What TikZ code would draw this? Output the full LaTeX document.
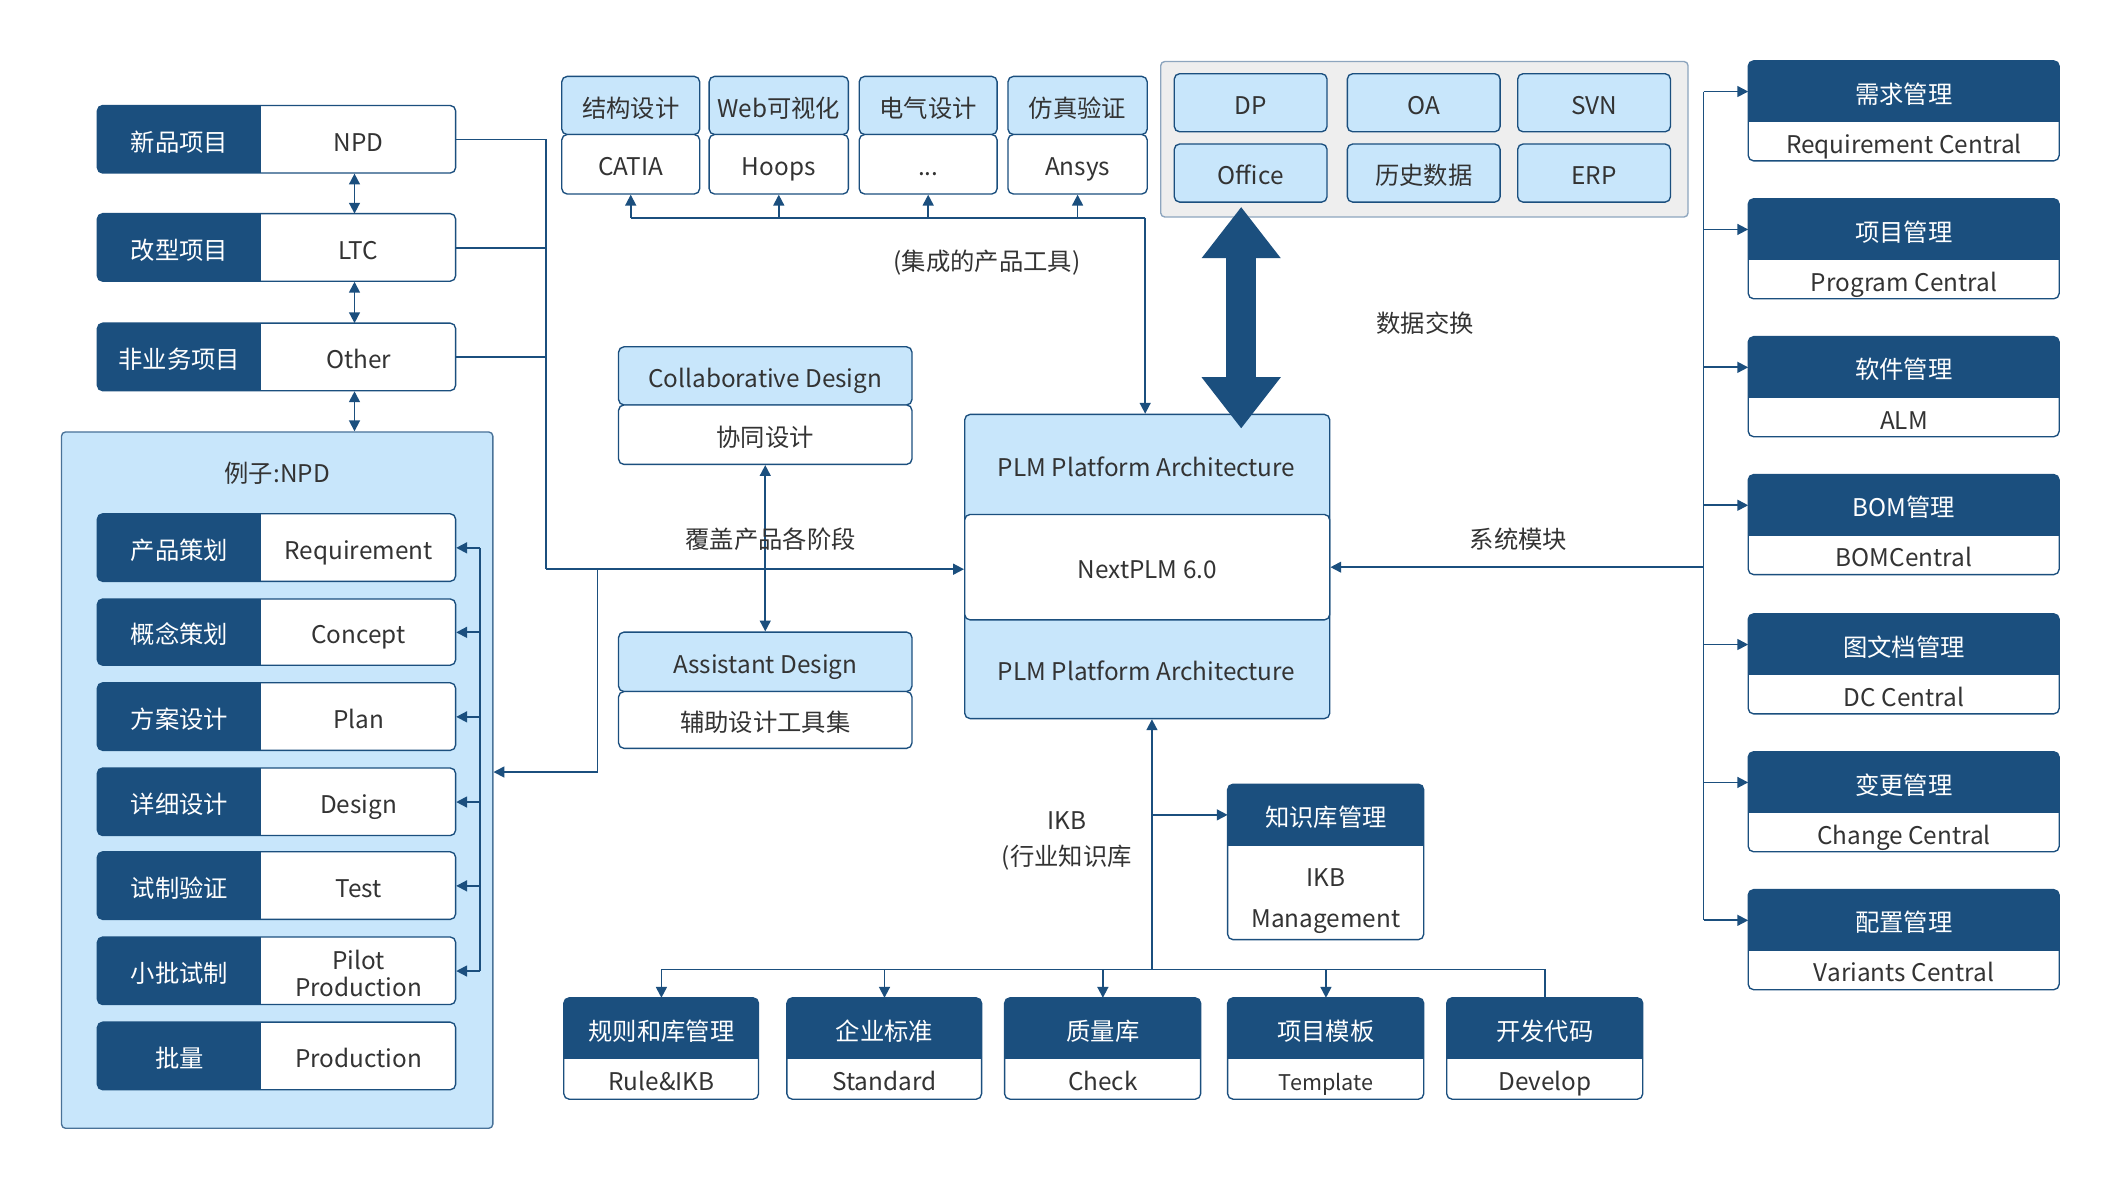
\documentclass[tikz,border=0pt]{standalone}
\usepackage{fontspec}
\setmainfont{Noto Sans CJK SC}
\usetikzlibrary{arrows.meta}
\definecolor{dk}{HTML}{1B4F7E}
\definecolor{lt}{HTML}{C8E6FB}
\definecolor{txt}{HTML}{333333}
\definecolor{grf}{HTML}{EEEEEE}
\definecolor{grb}{HTML}{8DA5BE}
\newcommand\fsz{\fontsize{18}{20}\selectfont}
% two-line text block: first line, second line, raise, extra gap
\newcommand\twol[4]{\raisebox{#3}{\begin{tabular}[t]{@{}c@{}}#1\\[#4]#2\end{tabular}}}
\tikzset{
  bdr/.style={draw=dk, line width=1pt},
  ln/.style={draw=dk, line width=1.3pt},
  arr/.style={ln, -{Triangle[length=8pt,width=8pt]}},
  darr/.style={ln, {Triangle[length=8pt,width=8pt]}-{Triangle[length=8pt,width=8pt]}},
  lbl/.style={text=txt, font=\fsz, inner sep=0pt},
  dkfill/.style={fill=dk}, dktxt/.style={text=white},
  ltfill/.style={fill=lt}, lttxt/.style={text=txt},
  part/.style={inner sep=0pt, anchor=north west, font=\fsz, align=center,
               text height=17.2pt, text depth=0pt},
  sbox/.style={part, draw=dk, line width=1pt, rounded corners=4pt, text=txt},
}
% vertical two-part box: name, x1, y1, x2, ymid, y2, head style prefix, head text, body text
\newcommand\vtwo[9]{%
  \pgfmathsetmacro\wA{#4-#2}\pgfmathsetmacro\hA{#5-#3}\pgfmathsetmacro\hB{#6-#5}%
  \begin{scope}
    \clip[rounded corners=4pt] (#2,#3) rectangle (#4,#6);
    \fill[#7fill] (#2,#3) rectangle (#4,#5);
    \fill[white] (#2,#5) rectangle (#4,#6);
  \end{scope}
  \draw[bdr] (#2,#5) -- (#4,#5);
  \draw[bdr, rounded corners=4pt] (#2,#3) rectangle (#4,#6);
  \node[part, #7txt, minimum width=\wA pt, minimum height=\hA pt] (#1h) at (#2,#3) {#8};
  \node[part, text=txt, minimum width=\wA pt, minimum height=\hB pt] (#1b) at (#2,#5) {#9};
}
% horizontal two-part box: name, x1, xm, x2, y1, y2, left text, right text
\newcommand\htwo[8]{%
  \pgfmathsetmacro\wA{#3-#2}\pgfmathsetmacro\wB{#4-#3}\pgfmathsetmacro\hA{#6-#5}%
  \begin{scope}
    \clip[rounded corners=4pt] (#2,#5) rectangle (#4,#6);
    \fill[dk] (#2,#5) rectangle (#3,#6);
    \fill[white] (#3,#5) rectangle (#4,#6);
  \end{scope}
  \draw[bdr, rounded corners=4pt] (#2,#5) rectangle (#4,#6);
  \node[part, text=white, minimum width=\wA pt, minimum height=\hA pt] (#1l) at (#2,#5) {#7};
  \node[part, text=txt, minimum width=\wB pt, minimum height=\hA pt] (#1r) at (#3,#5) {#8};
}
% separated two-part box: name, x1, y1, x2, ymid, y2, head text, body text
\newcommand\sepbox[8]{%
  \pgfmathsetmacro\wA{#4-#2}\pgfmathsetmacro\hA{#5-#3}\pgfmathsetmacro\hB{#6-#5}%
  \node[sbox, fill=lt, minimum width=\wA pt, minimum height=\hA pt] (#1h) at (#2,#3) {#7};
  \node[sbox, fill=white, minimum width=\wA pt, minimum height=\hB pt] (#1b) at (#2,#5) {#8};
}
\begin{document}
\begin{tikzpicture}[x=1pt,y=-1pt]
\fill[white] (0,0) rectangle (1568,879.3);
\useasboundingbox (0,0) rectangle (1568,879.3);

% ---------- left column ----------
\htwo{npd}{72}{193}{337}{78}{128}{新品项目}{NPD}
\htwo{ltc}{72}{193}{337}{158}{208}{改型项目}{LTC}
\htwo{oth}{72}{193}{337}{239}{289}{非业务项目}{Other}

\node[part, fill=lt, draw=dk!80, line width=1pt, rounded corners=3pt,
      minimum width=319pt, minimum height=515pt] (ex) at (45,319) {};
\node[lbl] (extitle) at (205,350) {例子:NPD};
\htwo{req}{72}{193}{337}{380}{430}{产品策划}{Requirement}
\htwo{con}{72}{193}{337}{443}{492}{概念策划}{Concept}
\htwo{pln}{72}{193}{337}{505}{555}{方案设计}{Plan}
\htwo{des}{72}{193}{337}{568}{618}{详细设计}{Design}
\htwo{tst}{72}{193}{337}{630}{680}{试制验证}{Test}
\htwo{pil}{72}{193}{337}{693}{743}{小批试制}{\twol{Pilot}{Production}{10pt}{0pt}}
\htwo{prd}{72}{193}{337}{756}{806}{批量}{Production}

\draw[darr] ([xshift=-3pt]npdr.south) -- ([xshift=-3pt]ltcr.north);
\draw[darr] ([xshift=-3pt]ltcr.south) -- ([xshift=-3pt]othr.north);
\draw[darr] ([xshift=-3pt]othr.south) -- ([xshift=-3pt]othr.south |- ex.north);

\coordinate (vx) at (355,0);
\draw[ln] (vx |- reqr.east) -- (vx |- pilr.east);
\foreach \r in {req,con,pln,des,tst,pil}{
  \draw[arr] (vx |- \r r.east) -- (\r r.east);
}

% ---------- top tools ----------
\sepbox{cat}{415}{56}{517}{99}{143}{结构设计}{CATIA}
\sepbox{hps}{524}{56}{627}{99}{143}{Web可视化}{Hoops}
\sepbox{ele}{635}{56}{737}{99}{143}{电气设计}{...}
\sepbox{ans}{745}{56}{848}{99}{143}{仿真验证}{Ansys}

% ---------- external systems ----------
\node[part, fill=grf, draw=grb, line width=1pt, rounded corners=3pt,
      minimum width=390pt, minimum height=115pt] (ext) at (858,45) {};
\node[sbox, fill=lt, minimum width=113pt, minimum height=43pt] (dp) at (868,54) {DP};
\node[sbox, fill=lt, minimum width=113pt, minimum height=43pt] (oa) at (996,54) {OA};
\node[sbox, fill=lt, minimum width=113pt, minimum height=43pt] (svn) at (1122,54) {SVN};
\node[sbox, fill=lt, minimum width=113pt, minimum height=43pt] (off) at (868,106) {Office};
\node[sbox, fill=lt, minimum width=113pt, minimum height=43pt] (his) at (996,106) {历史数据};
\node[sbox, fill=lt, minimum width=113pt, minimum height=43pt] (erp) at (1122,106) {ERP};

% ---------- design boxes ----------
\sepbox{col}{457}{256}{674}{299}{343}{Collaborative Design}{协同设计}
\sepbox{ast}{457}{467}{674}{511}{553}{Assistant Design}{辅助设计工具集}
\draw[darr] (colb.south) -- (asth.north);

% ---------- PLM ----------
\node[part, fill=lt, draw=dk, line width=1pt, rounded corners=4pt,
      minimum width=270pt, minimum height=225pt] (plm) at (713,306) {};
\node[part, fill=white, draw=dk, line width=1pt, rounded corners=4pt, text=txt,
      minimum width=270pt, minimum height=78pt] (plmmid) at (713,380) {NextPLM 6.0};
\node[lbl] (plmtop) at (848,345) {PLM Platform Architecture};
\node[lbl] (plmbot) at (848,496) {PLM Platform Architecture};

% ---------- right modules ----------
\vtwo{ra}{1293}{45}{1523}{90}{119}{dk}{需求管理}{Requirement Central}
\vtwo{rb}{1293}{147}{1523}{192}{221}{dk}{项目管理}{Program Central}
\vtwo{rc}{1293}{249}{1523}{294}{323}{dk}{软件管理}{ALM}
\vtwo{rd}{1293}{351}{1523}{396}{425}{dk}{BOM管理}{BOMCentral}
\vtwo{re}{1293}{454}{1523}{499}{528}{dk}{图文档管理}{DC Central}
\vtwo{rf}{1293}{556}{1523}{601}{630}{dk}{变更管理}{Change Central}
\vtwo{rg}{1293}{658}{1523}{703}{732}{dk}{配置管理}{Variants Central}

% ---------- knowledge base ----------
\vtwo{kb}{908}{580}{1053}{625}{695}{dk}{知识库管理}{\twol{IKB}{Management}{13pt}{10pt}}
\vtwo{ba}{417}{738}{561}{783}{813}{dk}{规则和库管理}{Rule\&IKB}
\vtwo{bb}{582}{738}{726}{783}{813}{dk}{企业标准}{Standard}
\vtwo{bc}{743}{738}{888}{783}{813}{dk}{质量库}{Check}
\vtwo{bd}{908}{738}{1053}{783}{813}{dk}{项目模板}{{\fontsize{16}{20}\selectfont Template}}
\vtwo{be}{1070}{738}{1215}{783}{813}{dk}{开发代码}{Develop}

% ---------- labels ----------
\node[lbl] (l1) at (730,194) {(集成的产品工具)};
\node[lbl] (l2) at (1054,239) {数据交换};
\node[lbl] (l3) at (570,399) {覆盖产品各阶段};
\node[lbl] (l4) at (1123,399) {系统模块};
\node[lbl, align=center, font=\fontsize{18}{27}\selectfont] (l5) at (789,622) {IKB\\(行业知识库};

% ---------- connectors ----------
% projects -> PLM
\coordinate (jL) at (404,421);
\draw[ln] (npdr.east) -| (jL);
\draw[ln] (ltcr.east) -- (ltcr.east -| jL);
\draw[ln] (othr.east) -- (othr.east -| jL);
\draw[arr] (jL) -- (plmmid.west |- jL);
\coordinate (jE) at (442,421);
\draw[arr] (jE) |- (ex.east |- 0,571);

% tools <-> PLM
\coordinate (tt) at (847,161);
\draw[ln] (catb.south |- tt) -- (tt);
\draw[arr] (tt) -- (tt |- plm.north);
\foreach \t in {cat,hps,ele,ans}{
  \draw[arr] (\t b.south |- tt) -- (\t b.south);
}

% data exchange (thick double arrow)
\coordinate (ta) at (918,153);
\coordinate (tb) at (918,317);
\draw[draw=dk, fill=dk, line width=22pt,
      {Triangle[length=38pt,width=56pt]}-{Triangle[length=38pt,width=56pt]}] (ta) -- (tb);

% system modules
\coordinate (rv) at (1260,0);
\draw[ln] (rv |- rah.west) -- (rv |- rgh.west);
\foreach \r in {ra,rb,rc,rd,re,rf,rg}{
  \draw[arr] (rv |- \r h.west) -- (\r h.west);
}
\draw[arr] (rv |- plmmid.east) -- (plmmid.east);

% knowledge base
\coordinate (bj) at (852,717);
\draw[arr] (bj) -- (bj |- plm.south);
\draw[arr] (bj |- kbh.west) -- (kbh.west);
\draw[ln] (bah.north |- bj) -- (beh.north |- bj);
\foreach \b in {ba,bb,bc,bd}{
  \draw[arr] (\b h.north |- bj) -- (\b h.north);
}
\draw[ln] (beh.north |- bj) -- (beh.north);
\end{tikzpicture}
\end{document}
